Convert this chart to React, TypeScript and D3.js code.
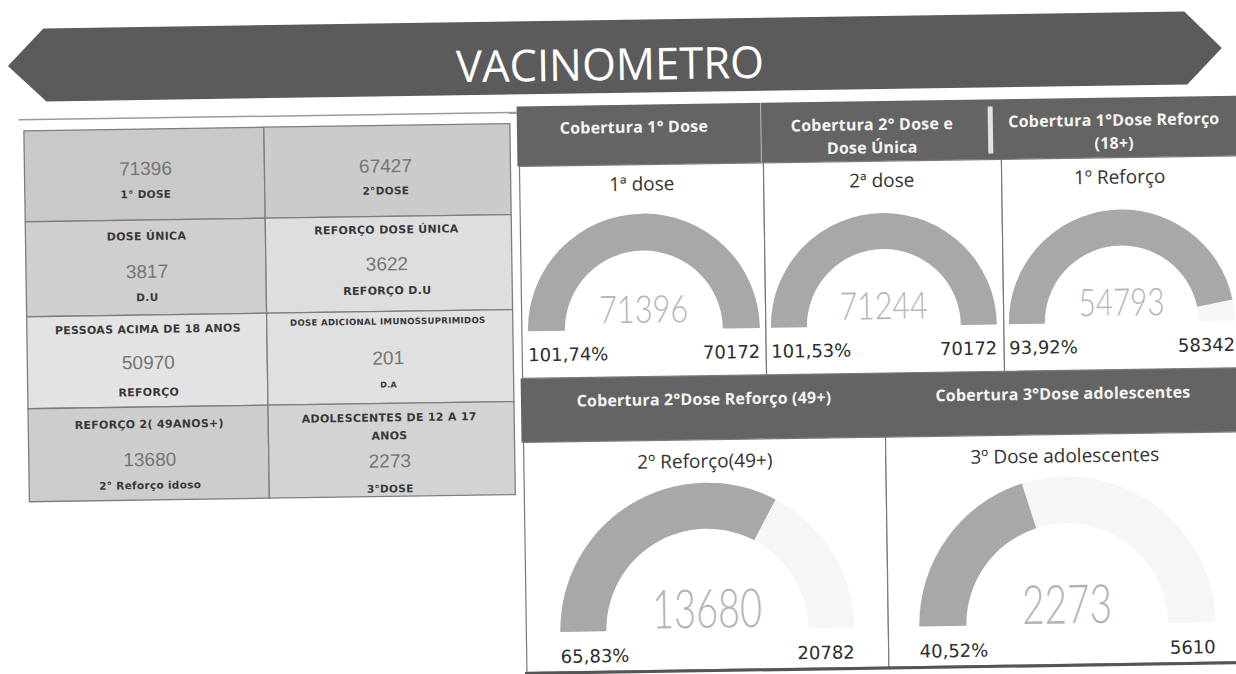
import React from 'react';
import * as d3 from 'd3';

// ---------------- DATA ----------------
const cardTopLabels: string[][] = [
  [],
  [],
  ['DOSE ÚNICA'],
  ['REFORÇO DOSE ÚNICA'],
  ['PESSOAS ACIMA DE 18 ANOS'],
  ['DOSE ADICIONAL IMUNOSSUPRIMIDOS'],
  ['REFORÇO 2( 49ANOS+)'],
  ['ADOLESCENTES DE 12 A 17', 'ANOS'],
];
const cardValues = [71396, 67427, 3817, 3622, 50970, 201, 13680, 2273];
const cardBottomLabels = ['1° DOSE', '2°DOSE', 'D.U', 'REFORÇO D.U', 'REFORÇO', 'D.A', '2° Reforço idoso', '3°DOSE'];

const gaugeHeaders: string[][] = [
  ['Cobertura 1° Dose'],
  ['Cobertura 2° Dose e', 'Dose Única'],
  ['Cobertura 1°Dose Reforço', '(18+)'],
  ['Cobertura 2°Dose Reforço (49+)'],
  ['Cobertura 3°Dose adolescentes'],
];
const gaugeTitles = ['1ª dose', '2ª dose', '1º Reforço', '2º Reforço(49+)', '3º Dose adolescentes'];
const gaugeValues = [71396, 71244, 54793, 13680, 2273];
const gaugeTargets = [70172, 70172, 58342, 20782, 5610];

const pageTitle = 'VACINOMETRO';

// ---------------- LAYOUT ----------------
const W = 1236;
const H = 674;
const cardCols = [
  [27, 267],
  [267, 513],
];
const cardRows = [122, 213, 308, 400, 493];
const cardFills = ['#c9c9c9', '#cbcbcb', '#cfcfcf', '#dedede', '#e3e3e3', '#e0e0e0', '#cdcdcd', '#d3d3d3'];
const cardTextY = [
  { top: [] as number[], val: 168, bot: 191 },
  { top: [] as number[], val: 169, bot: 191 },
  { top: [233], val: 271, bot: 294 },
  { top: [230], val: 267, bot: 291 },
  { top: [326], val: 362, bot: 389 },
  { top: [321], val: 361, bot: 384 },
  { top: [421], val: 459, bot: 482 },
  { top: [418, 436], val: 464, bot: 489 },
];
const cardTopSize = [11, 11, 11, 11, 11, 8.6, 11, 11];
const cardBotSize = [10.5, 10.5, 10.5, 11, 11, 8, 10.5, 10.5];

const gaugeLayout = [
  { cx: 644, cy: 330, R: 116, r: 79, titleY: 191, numY: 323, numSize: 38, digitW: 17.8, labY: 360, hx: 637, hy: [133] },
  { cx: 884, cy: 330, R: 113, r: 77, titleY: 191, numY: 323, numSize: 38, digitW: 17.6, labY: 360, hx: 875, hy: [134, 157] },
  { cx: 1122, cy: 330, R: 113, r: 77, titleY: 191, numY: 323, numSize: 38, digitW: 17.2, labY: 360, hx: 1117, hy: [133, 156] },
  { cx: 703, cy: 631, R: 147, r: 101, titleY: 469, numY: 629, numSize: 54, digitW: 22, labY: 662, hx: 703, hy: [406] },
  { cx: 1063, cy: 631, R: 148, r: 101, titleY: 469, numY: 630, numSize: 54, digitW: 22.5, labY: 662, hx: 1062, hy: [406] },
];

const topPanels = [
  [522, 766],
  [766, 1004],
  [1004, 1240],
];
const bottomPanels = [
  [522, 884],
  [884, 1240],
];

const fmtPct = (v: number, t: number) => ((v / t) * 100).toFixed(2).replace('.', ',') + '%';

export default function App() {
  const arcGen = d3.arc<any>();
  const frac = gaugeValues.map((v, i) => d3.scaleLinear().domain([0, gaugeTargets[i]]).range([0, 1]).clamp(true)(v));
  const angle = d3.scaleLinear().domain([0, 1]).range([-Math.PI / 2, Math.PI / 2]);

  const bannerPts: [number, number][] = [
    [12, 57],
    [48, 20],
    [1189, 20],
    [1226, 57],
    [1191, 93],
    [50, 93],
  ];

  return (
    <svg width={W} height={H} style={{ position: 'absolute', left: 0, top: 0, background: '#fff' }}>
      <rect x={0} y={0} width={W} height={H} fill="#ffffff" />
      <g transform="rotate(-0.85, 618, 337)">
        {/* Banner */}
        <polygon points={bannerPts.map((p) => p.join(',')).join(' ')} fill="#5b5b5b" />
        <text
          x={614}
          y={80}
          textAnchor="middle"
          fill="#ffffff"
          fontFamily="'Open Sans', 'Noto Sans', sans-serif"
          fontSize={44}
          textLength={308}
          lengthAdjust="spacingAndGlyphs"
        >
          {pageTitle}
        </text>
        <line x1={22} x2={520} y1={111} y2={111} stroke="#9a9a9a" strokeWidth={1.5} />

        {/* Left cards */}
        {cardValues.map((v, i) => {
          const col = i % 2;
          const row = Math.floor(i / 2);
          const [x0, x1] = cardCols[col];
          const y0 = cardRows[row];
          const y1 = cardRows[row + 1];
          const cx = (x0 + x1) / 2 + (col === 0 ? 1 : -2);
          const ty = cardTextY[i];
          return (
            <g key={'card' + i}>
              <rect x={x0} y={y0} width={x1 - x0} height={y1 - y0} fill={cardFills[i]} stroke="#7e7e7e" strokeWidth={1.3} />
              {cardTopLabels[i].map((lab, j) => (
                <text
                  key={j}
                  x={cx}
                  y={ty.top[j]}
                  textAnchor="middle"
                  fill="#383838"
                  fontFamily="'DejaVu Sans', sans-serif"
                  fontWeight={700}
                  fontSize={cardTopSize[i]}
                  letterSpacing={0.3}
                >
                  {lab}
                </text>
              ))}
              <text
                x={cx}
                y={ty.val}
                textAnchor="middle"
                fill="#757575"
                fontFamily="'Liberation Sans', Arial, sans-serif"
                fontSize={19}
              >
                {v}
              </text>
              <text
                x={cx}
                y={ty.bot}
                textAnchor="middle"
                fill="#383838"
                fontFamily="'DejaVu Sans', sans-serif"
                fontWeight={700}
                fontSize={cardBotSize[i]}
                letterSpacing={0.3}
              >
                {cardBottomLabels[i]}
              </text>
            </g>
          );
        })}

        {/* Right block headers */}
        <rect x={520} y={105} width={720} height={60} fill="#646464" />
        <rect x={520} y={377} width={720} height={64} fill="#646464" />
        <line x1={764} x2={764} y1={105} y2={165} stroke="#bdbdbd" strokeWidth={1} />
        <rect x={991} y={112} width={5} height={47} fill="#e2e2e2" />

        {/* Panels */}
        {topPanels.map(([a, b], i) => (
          <rect key={'tp' + i} x={a} y={165} width={b - a} height={212} fill="#ffffff" stroke="#7a7a7a" strokeWidth={1.2} />
        ))}
        {bottomPanels.map(([a, b], i) => (
          <rect key={'bp' + i} x={a} y={441} width={b - a} height={230} fill="#ffffff" stroke="#7a7a7a" strokeWidth={1.2} />
        ))}
        <line x1={520} x2={1240} y1={672} y2={672} stroke="#555" strokeWidth={3} />

        {/* Headers text */}
        {gaugeHeaders.map((lines, i) =>
          lines.map((ln, j) => (
            <text
              key={'h' + i + '-' + j}
              x={gaugeLayout[i].hx}
              y={gaugeLayout[i].hy[j]}
              textAnchor="middle"
              fill="#f4f4f4"
              fontFamily="'Open Sans', 'Noto Sans', sans-serif"
              fontWeight={700}
              fontSize={16}
              letterSpacing={0.2}
            >
              {ln}
            </text>
          ))
        )}

        {/* Gauges */}
        {gaugeValues.map((v, i) => {
          const L = gaugeLayout[i];
          const bg = arcGen({ innerRadius: L.r, outerRadius: L.R, startAngle: -Math.PI / 2, endAngle: Math.PI / 2 }) as string;
          const fg = arcGen({ innerRadius: L.r, outerRadius: L.R, startAngle: -Math.PI / 2, endAngle: angle(frac[i]) }) as string;
          const digits = String(v).length;
          return (
            <g key={'g' + i}>
              <text
                x={L.cx}
                y={L.titleY}
                textAnchor="middle"
                fill="#333333"
                fontFamily="'Open Sans', 'Noto Sans', sans-serif"
                fontSize={19}
              >
                {gaugeTitles[i]}
              </text>
              <g transform={`translate(${L.cx},${L.cy})`}>
                <path d={bg} fill="#f6f6f6" />
                <path d={fg} fill="#a8a8a8" />
              </g>
              <text
                x={L.cx}
                y={L.numY}
                textAnchor="middle"
                fill="#b4b4b4"
                fontFamily="Lato, Roboto, sans-serif"
                fontWeight={300}
                fontSize={L.numSize}
                textLength={digits * L.digitW}
                lengthAdjust="spacingAndGlyphs"
              >
                {v}
              </text>
              <text
                x={L.cx - L.R}
                y={L.labY}
                textAnchor="start"
                fill="#2d2d2d"
                fontFamily="'DejaVu Sans', sans-serif"
                fontSize={18}
              >
                {fmtPct(v, gaugeTargets[i])}
              </text>
              <text
                x={L.cx + L.R}
                y={L.labY}
                textAnchor="end"
                fill="#2d2d2d"
                fontFamily="'DejaVu Sans', sans-serif"
                fontSize={18}
              >
                {gaugeTargets[i]}
              </text>
            </g>
          );
        })}
      </g>
    </svg>
  );
}
